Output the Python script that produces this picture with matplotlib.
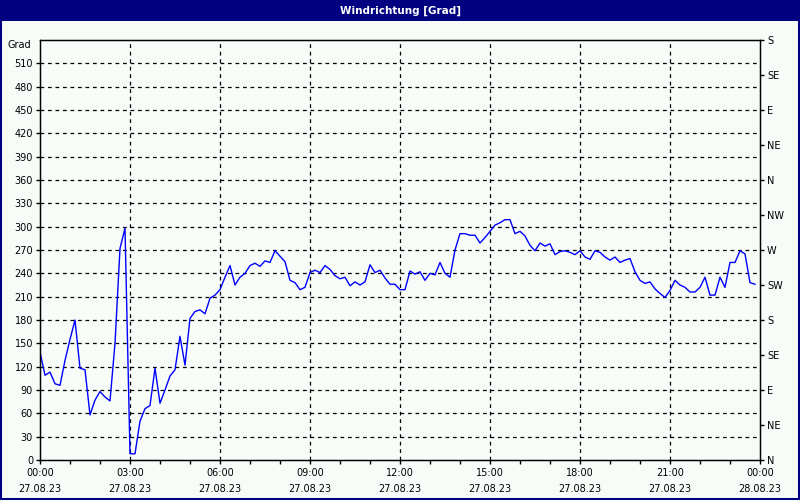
import matplotlib.pyplot as plt
import numpy as np
from matplotlib.patches import Rectangle

# wind direction, one value every 10 minutes, 27.08.23 00:00 - 23:50
richtung = [139, 109, 113, 98, 96, 128, 155, 180, 118, 116,
            58, 77, 88, 81, 76, 150, 272, 298, 8, 8,
            50, 66, 70, 118, 73, 90, 108, 116, 159, 122,
            182, 191, 193, 188, 208, 212, 219, 235, 250, 225,
            235, 240, 250, 253, 249, 256, 254, 269, 262, 255,
            231, 228, 219, 222, 241, 244, 241, 250, 245, 237,
            233, 235, 224, 229, 225, 229, 251, 241, 244, 234,
            226, 226, 219, 219, 243, 239, 242, 231, 240, 238,
            254, 240, 235, 270, 291, 291, 289, 289, 279, 286,
            294, 302, 305, 309, 309, 291, 294, 288, 276, 269,
            279, 275, 278, 264, 268, 269, 267, 264, 269, 261,
            258, 269, 267, 261, 257, 261, 254, 257, 259, 242,
            231, 227, 229, 220, 214, 209, 218, 231, 225, 222,
            216, 216, 222, 235, 212, 212, 235, 222, 254, 254,
            269, 265, 228, 226]
stunden = np.arange(len(richtung)) / 6.0

grad_ticks = list(range(0, 540, 30))
himmel_ticks = list(range(0, 541, 45))
himmel_labels = ["N", "NE", "E", "SE", "S", "SW", "W", "NW", "N", "NE", "E", "SE", "S"]
x_ticks = list(range(0, 25, 3))
x_labels = ["00:00\n27.08.23", "03:00\n27.08.23", "06:00\n27.08.23", "09:00\n27.08.23",
            "12:00\n27.08.23", "15:00\n27.08.23", "18:00\n27.08.23", "21:00\n27.08.23",
            "00:00\n28.08.23"]

bg = "#f8fcf8"
navy = "#000080"

fig = plt.figure(figsize=(8, 5), dpi=100, facecolor=bg)
ax = fig.add_axes([0.05, 0.08, 0.90, 0.84])
ax.set_facecolor(bg)

ax.plot(stunden, richtung, color="#0000ff", lw=1)

ax.set_xlim(0, 24)
ax.set_ylim(0, 540)
ax.set_yticks(grad_ticks)
ax.set_yticklabels([str(v) for v in grad_ticks], fontsize=7)
ax.set_xticks(x_ticks)
ax.set_xticklabels(x_labels, fontsize=7, linespacing=1.75)
ax.set_xticks(range(0, 25), minor=True)
ax.tick_params(axis="both", which="both", direction="out", length=3, width=1, pad=2, colors="black")
ax.tick_params(axis="x", which="major", pad=3)

for v in grad_ticks[1:]:
    ax.axhline(v, color="black", lw=0.9, ls=(0, (3, 3)), zorder=0)
for t in x_ticks[1:-1]:
    ax.axvline(t, color="black", lw=0.9, ls=(0, (3, 3)), zorder=0)

for s in ax.spines.values():
    s.set_linewidth(1)

ax2 = ax.twinx()
ax2.set_ylim(0, 540)
ax2.set_yticks(himmel_ticks)
ax2.set_yticklabels(himmel_labels, fontsize=7)
ax2.tick_params(axis="y", direction="out", length=3, width=1, pad=2)

ax.text(-0.012, 1.0, "Grad", transform=ax.transAxes, ha="right", va="top", fontsize=7)

# title bar and frame
fig.patches.append(Rectangle((0, 0.958), 1, 0.042, transform=fig.transFigure,
                             facecolor=navy, edgecolor="none", zorder=0))
fig.patches.append(Rectangle((0.001, 0.002), 0.998, 0.996, transform=fig.transFigure,
                             facecolor="none", edgecolor=navy, lw=1.5, zorder=5))
fig.text(0.5, 0.979, "Windrichtung [Grad]", color="white", fontsize=7.5,
         fontweight="bold", ha="center", va="center")

fig.savefig("out.png", dpi=100, facecolor=bg)
